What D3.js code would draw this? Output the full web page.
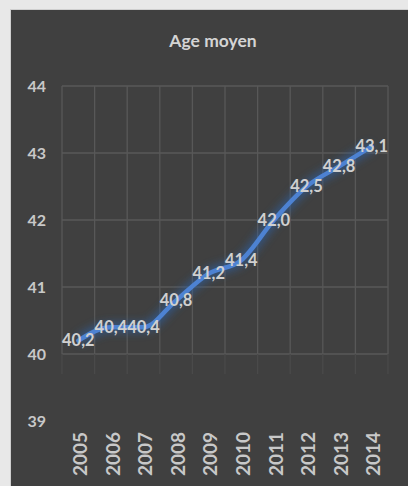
<!DOCTYPE html>
<html><head><meta charset="utf-8">
<script src="https://cdn.jsdelivr.net/npm/d3@7"></script>
<style>
html,body{margin:0;padding:0;background:#e8e8e8;}
svg{display:block;}
text{font-family:Lato,"Open Sans",sans-serif;font-weight:bold;}
</style></head><body>
<svg id="chart" width="408" height="486"></svg>
<script>
const title = "Age moyen";
const years = ["2005","2006","2007","2008","2009","2010","2011","2012","2013","2014"];
const ages = [40.2, 40.4, 40.4, 40.8, 41.2, 41.4, 42.0, 42.5, 42.8, 43.1];
const yTicks = [39, 40, 41, 42, 43, 44];

const svg = d3.select("#chart");
// panel
svg.append("rect").attr("x", 10.5).attr("y", 9.5).attr("width", 400).attr("height", 480)
  .attr("fill", "#404040").attr("stroke", "#cfcfcf").attr("stroke-width", 1);

const x = d3.scaleBand().domain(years).range([62, 388]).padding(0);
const y = d3.scaleLinear().domain([39, 44]).range([421, 86]);

const defs = svg.append("defs");
const f = defs.append("filter").attr("id", "glow").attr("x", "-20%").attr("y", "-20%").attr("width", "140%").attr("height", "140%");
f.append("feGaussianBlur").attr("stdDeviation", 4);

// gridlines
const grid = svg.append("g").attr("stroke", "#585858").attr("stroke-width", 1.3);
yTicks.filter(t => t >= 40).forEach(t => {
  grid.append("line").attr("x1", 62).attr("x2", 388).attr("y1", y(t)).attr("y2", y(t));
});
const bounds = years.map(d => x(d)).concat([x(years[years.length-1]) + x.bandwidth()]);
bounds.forEach(b => {
  grid.append("line").attr("x1", b).attr("x2", b).attr("y1", y(44)).attr("y2", y(40));
  grid.append("line").attr("x1", b).attr("x2", b).attr("y1", y(40)).attr("y2", y(39.7))
    .attr("stroke", "#4a4a4a");
});

// y axis labels
svg.append("g").selectAll("text").data(yTicks).join("text")
  .attr("x", 46).attr("y", d => y(d)).attr("dy", "0.35em")
  .attr("text-anchor", "end").attr("fill", "#c8c8c8").attr("font-size", 16)
  .text(d => d);

// x axis labels
svg.append("g").selectAll("text").data(years).join("text")
  .attr("transform", d => `translate(${x(d) + x.bandwidth()/2 + 2},432) rotate(-90)`)
  .attr("dy", "0.35em").attr("text-anchor", "end").attr("fill", "#c8c8c8")
  .attr("font-size", 19).text(d => d);

// title
svg.append("text").attr("x", 213).attr("y", 47).attr("text-anchor", "middle")
  .attr("fill", "#d4d4d4").attr("font-size", 17.5).text(title);

// line
const pts = years.map((d, i) => [x(d) + x.bandwidth()/2, y(ages[i])]);
const line = d3.line().curve(d3.curveMonotoneX);
svg.append("path").attr("d", line(pts)).attr("fill", "none")
  .attr("stroke", "#2f5f9e").attr("stroke-width", 10).attr("opacity", 0.7)
  .attr("filter", "url(#glow)");
svg.append("path").attr("d", line(pts)).attr("fill", "none")
  .attr("stroke", "#4d82d2").attr("stroke-width", 4.5).attr("stroke-linecap", "round");

// data labels
svg.append("g").selectAll("text").data(ages).join("text")
  .attr("x", (d, i) => pts[i][0]).attr("y", (d, i) => pts[i][1]).attr("dy", "0.35em")
  .attr("text-anchor", "middle").attr("fill", "#d0d0d0").attr("font-size", 16.5)
  .text(d => d.toFixed(1).replace(".", ","));
</script>
</body></html>
